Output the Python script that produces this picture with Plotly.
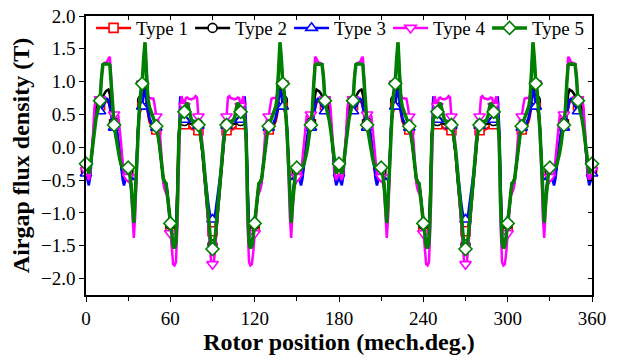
import plotly.graph_objects as go

rotor_deg = list(range(0, 361))

type1 = [
-0.35,-0.45,-0.48,-0.38,-0.12,0.15,0.38,0.52,0.58,0.62,
0.64,0.66,0.68,0.70,0.70,0.70,0.68,0.62,0.50,0.40,
0.35,0.30,0.22,0.08,-0.10,-0.28,-0.40,-0.45,-0.40,-0.35,
-0.35,-0.45,-0.55,-0.80,-1.08,-0.80,-0.20,0.25,0.50,0.60,
0.65,0.72,0.78,0.65,0.50,0.40,0.35,0.30,0.28,0.27,
0.27,0.22,0.08,-0.10,-0.30,-0.46,-0.52,-0.56,-0.70,-0.95,
-1.20,-1.38,-1.45,-1.47,-1.38,-0.70,0.15,0.40,0.40,0.38,
0.35,0.34,0.33,0.32,0.30,0.28,0.27,0.26,0.26,0.26,
0.26,0.22,0.08,-0.12,-0.38,-0.62,-0.85,-1.05,-1.20,-1.27,
-1.28,
-1.27,-1.20,-1.05,-0.85,-0.62,-0.38,-0.12,0.08,0.22,0.26,
0.26,0.26,0.26,0.27,0.28,0.30,0.32,0.33,0.34,0.35,
0.38,0.40,0.40,0.15,-0.70,-1.38,-1.47,-1.45,-1.38,-1.20,
-0.95,-0.70,-0.56,-0.52,-0.46,-0.30,-0.10,0.08,0.22,0.27,
0.27,0.28,0.30,0.35,0.40,0.50,0.65,0.78,0.72,0.65,
0.60,0.50,0.25,-0.20,-0.80,-1.08,-0.80,-0.55,-0.45,-0.35,
-0.35,-0.40,-0.45,-0.40,-0.28,-0.10,0.08,0.22,0.30,0.35,
0.40,0.50,0.62,0.68,0.70,0.70,0.70,0.68,0.66,0.64,
0.62,0.58,0.52,0.38,0.15,-0.12,-0.38,-0.48,-0.45,-0.35,
-0.45,-0.48,-0.38,-0.12,0.15,0.38,0.52,0.58,0.62,
0.64,0.66,0.68,0.70,0.70,0.70,0.68,0.62,0.50,0.40,
0.35,0.30,0.22,0.08,-0.10,-0.28,-0.40,-0.45,-0.40,-0.35,
-0.35,-0.45,-0.55,-0.80,-1.08,-0.80,-0.20,0.25,0.50,0.60,
0.65,0.72,0.78,0.65,0.50,0.40,0.35,0.30,0.28,0.27,
0.27,0.22,0.08,-0.10,-0.30,-0.46,-0.52,-0.56,-0.70,-0.95,
-1.20,-1.38,-1.45,-1.47,-1.38,-0.70,0.15,0.40,0.40,0.38,
0.35,0.34,0.33,0.32,0.30,0.28,0.27,0.26,0.26,0.26,
0.26,0.22,0.08,-0.12,-0.38,-0.62,-0.85,-1.05,-1.20,-1.27,
-1.28,
-1.27,-1.20,-1.05,-0.85,-0.62,-0.38,-0.12,0.08,0.22,0.26,
0.26,0.26,0.26,0.27,0.28,0.30,0.32,0.33,0.34,0.35,
0.38,0.40,0.40,0.15,-0.70,-1.38,-1.47,-1.45,-1.38,-1.20,
-0.95,-0.70,-0.56,-0.52,-0.46,-0.30,-0.10,0.08,0.22,0.27,
0.27,0.28,0.30,0.35,0.40,0.50,0.65,0.78,0.72,0.65,
0.60,0.50,0.25,-0.20,-0.80,-1.08,-0.80,-0.55,-0.45,-0.35,
-0.35,-0.40,-0.45,-0.40,-0.28,-0.10,0.08,0.22,0.30,0.35,
0.40,0.50,0.62,0.68,0.70,0.70,0.70,0.68,0.66,0.64,
0.62,0.58,0.52,0.38,0.15,-0.12,-0.38,-0.48,-0.45,-0.35,
]

type2 = [
-0.35,-0.45,-0.48,-0.38,-0.12,0.15,0.40,0.55,0.62,0.66,
0.70,0.74,0.78,0.82,0.85,0.87,0.88,0.80,0.60,0.45,
0.38,0.32,0.22,0.08,-0.10,-0.28,-0.40,-0.45,-0.40,-0.36,
-0.36,-0.45,-0.56,-0.82,-1.10,-0.80,-0.20,0.28,0.55,0.68,
0.72,0.85,0.90,0.72,0.55,0.45,0.38,0.35,0.33,0.32,
0.32,0.25,0.10,-0.10,-0.30,-0.48,-0.53,-0.56,-0.72,-0.95,
-1.18,-1.38,-1.48,-1.50,-1.40,-0.70,0.20,0.45,0.45,0.42,
0.40,0.40,0.38,0.37,0.36,0.35,0.35,0.35,0.35,0.35,
0.35,0.28,0.10,-0.12,-0.40,-0.68,-0.95,-1.20,-1.38,-1.46,
-1.48,
-1.46,-1.38,-1.20,-0.95,-0.68,-0.40,-0.12,0.10,0.28,0.35,
0.35,0.35,0.35,0.35,0.35,0.36,0.37,0.38,0.40,0.40,
0.42,0.45,0.45,0.20,-0.70,-1.40,-1.50,-1.48,-1.38,-1.18,
-0.95,-0.72,-0.56,-0.53,-0.48,-0.30,-0.10,0.10,0.25,0.32,
0.32,0.33,0.35,0.38,0.45,0.55,0.72,0.90,0.85,0.72,
0.68,0.55,0.28,-0.20,-0.80,-1.10,-0.82,-0.56,-0.45,-0.36,
-0.36,-0.40,-0.45,-0.40,-0.28,-0.10,0.08,0.22,0.32,0.38,
0.45,0.60,0.80,0.88,0.87,0.85,0.82,0.78,0.74,0.70,
0.66,0.62,0.55,0.40,0.15,-0.12,-0.38,-0.48,-0.45,-0.35,
-0.45,-0.48,-0.38,-0.12,0.15,0.40,0.55,0.62,0.66,
0.70,0.74,0.78,0.82,0.85,0.87,0.88,0.80,0.60,0.45,
0.38,0.32,0.22,0.08,-0.10,-0.28,-0.40,-0.45,-0.40,-0.36,
-0.36,-0.45,-0.56,-0.82,-1.10,-0.80,-0.20,0.28,0.55,0.68,
0.72,0.85,0.90,0.72,0.55,0.45,0.38,0.35,0.33,0.32,
0.32,0.25,0.10,-0.10,-0.30,-0.48,-0.53,-0.56,-0.72,-0.95,
-1.18,-1.38,-1.48,-1.50,-1.40,-0.70,0.20,0.45,0.45,0.42,
0.40,0.40,0.38,0.37,0.36,0.35,0.35,0.35,0.35,0.35,
0.35,0.28,0.10,-0.12,-0.40,-0.68,-0.95,-1.20,-1.38,-1.46,
-1.48,
-1.46,-1.38,-1.20,-0.95,-0.68,-0.40,-0.12,0.10,0.28,0.35,
0.35,0.35,0.35,0.35,0.35,0.36,0.37,0.38,0.40,0.40,
0.42,0.45,0.45,0.20,-0.70,-1.40,-1.50,-1.48,-1.38,-1.18,
-0.95,-0.72,-0.56,-0.53,-0.48,-0.30,-0.10,0.10,0.25,0.32,
0.32,0.33,0.35,0.38,0.45,0.55,0.72,0.90,0.85,0.72,
0.68,0.55,0.28,-0.20,-0.80,-1.10,-0.82,-0.56,-0.45,-0.36,
-0.36,-0.40,-0.45,-0.40,-0.28,-0.10,0.08,0.22,0.32,0.38,
0.45,0.60,0.80,0.88,0.87,0.85,0.82,0.78,0.74,0.70,
0.66,0.62,0.55,0.40,0.15,-0.12,-0.38,-0.48,-0.45,-0.35,
]

type3 = [
-0.40,-0.52,-0.58,-0.45,-0.15,0.15,0.38,0.50,0.53,0.55,
0.55,0.58,0.62,0.66,0.70,0.74,0.72,0.62,0.48,0.36,
0.30,0.30,0.26,0.12,-0.08,-0.30,-0.48,-0.58,-0.50,-0.42,
-0.45,-0.55,-0.60,-0.80,-1.10,-0.80,-0.20,0.30,0.55,0.60,
0.62,0.80,0.88,0.70,0.55,0.45,0.40,0.35,0.33,0.32,
0.30,0.25,0.10,-0.10,-0.30,-0.48,-0.55,-0.58,-0.72,-0.95,
-1.13,-1.35,-1.48,-1.50,-1.40,-0.60,0.30,0.76,0.76,0.55,
0.42,0.40,0.40,0.40,0.40,0.40,0.40,0.40,0.40,0.38,
0.33,0.28,0.10,-0.10,-0.35,-0.55,-0.72,-0.85,-1.00,-1.08,
-1.10,
-1.08,-1.00,-0.85,-0.72,-0.55,-0.35,-0.10,0.10,0.28,0.33,
0.38,0.40,0.40,0.40,0.40,0.40,0.40,0.40,0.40,0.42,
0.55,0.76,0.76,0.30,-0.60,-1.40,-1.50,-1.48,-1.35,-1.13,
-0.95,-0.72,-0.58,-0.55,-0.48,-0.30,-0.10,0.10,0.25,0.30,
0.32,0.33,0.35,0.40,0.45,0.55,0.70,0.88,0.80,0.62,
0.60,0.55,0.30,-0.20,-0.80,-1.10,-0.80,-0.60,-0.55,-0.45,
-0.42,-0.50,-0.58,-0.48,-0.30,-0.08,0.12,0.26,0.30,0.30,
0.36,0.48,0.62,0.72,0.74,0.70,0.66,0.62,0.58,0.55,
0.55,0.53,0.50,0.38,0.15,-0.15,-0.45,-0.58,-0.52,-0.40,
-0.52,-0.58,-0.45,-0.15,0.15,0.38,0.50,0.53,0.55,
0.55,0.58,0.62,0.66,0.70,0.74,0.72,0.62,0.48,0.36,
0.30,0.30,0.26,0.12,-0.08,-0.30,-0.48,-0.58,-0.50,-0.42,
-0.45,-0.55,-0.60,-0.80,-1.10,-0.80,-0.20,0.30,0.55,0.60,
0.62,0.80,0.88,0.70,0.55,0.45,0.40,0.35,0.33,0.32,
0.30,0.25,0.10,-0.10,-0.30,-0.48,-0.55,-0.58,-0.72,-0.95,
-1.13,-1.35,-1.48,-1.50,-1.40,-0.60,0.30,0.76,0.76,0.55,
0.42,0.40,0.40,0.40,0.40,0.40,0.40,0.40,0.40,0.38,
0.33,0.28,0.10,-0.10,-0.35,-0.55,-0.72,-0.85,-1.00,-1.08,
-1.10,
-1.08,-1.00,-0.85,-0.72,-0.55,-0.35,-0.10,0.10,0.28,0.33,
0.38,0.40,0.40,0.40,0.40,0.40,0.40,0.40,0.40,0.42,
0.55,0.76,0.76,0.30,-0.60,-1.40,-1.50,-1.48,-1.35,-1.13,
-0.95,-0.72,-0.58,-0.55,-0.48,-0.30,-0.10,0.10,0.25,0.30,
0.32,0.33,0.35,0.40,0.45,0.55,0.70,0.88,0.80,0.62,
0.60,0.55,0.30,-0.20,-0.80,-1.10,-0.80,-0.60,-0.55,-0.45,
-0.42,-0.50,-0.58,-0.48,-0.30,-0.08,0.12,0.26,0.30,0.30,
0.36,0.48,0.62,0.72,0.74,0.70,0.66,0.62,0.58,0.55,
0.55,0.53,0.50,0.38,0.15,-0.15,-0.45,-0.58,-0.52,-0.40,
]

type4 = [
-0.35,-0.45,-0.50,-0.40,-0.15,0.20,0.60,0.75,0.75,0.75,
0.73,1.10,1.27,1.28,1.29,1.30,1.35,1.38,1.00,0.55,
0.50,0.50,0.50,0.48,0.30,0.05,-0.20,-0.40,-0.48,-0.50,
-0.45,-0.46,-0.60,-0.95,-1.38,-1.05,-0.35,0.20,0.60,0.80,
0.97,1.30,1.55,1.20,0.80,0.75,0.75,0.75,0.74,0.62,
0.47,0.45,0.35,0.10,-0.25,-0.55,-0.65,-0.70,-0.75,-1.00,
-1.31,-1.60,-1.78,-1.80,-1.75,-1.20,-0.10,0.50,0.78,0.70,
0.63,0.75,0.76,0.74,0.73,0.73,0.74,0.75,0.78,0.76,
0.47,0.45,0.25,-0.05,-0.35,-0.62,-0.90,-1.20,-1.52,-1.74,
-1.78,
-1.74,-1.52,-1.20,-0.90,-0.62,-0.35,-0.05,0.25,0.45,0.47,
0.76,0.78,0.75,0.74,0.73,0.73,0.74,0.76,0.75,0.63,
0.70,0.78,0.50,-0.10,-1.20,-1.75,-1.80,-1.78,-1.60,-1.31,
-1.00,-0.75,-0.70,-0.65,-0.55,-0.25,0.10,0.35,0.45,0.47,
0.62,0.74,0.75,0.75,0.75,0.80,1.20,1.55,1.30,0.97,
0.80,0.60,0.20,-0.35,-1.05,-1.38,-0.95,-0.60,-0.46,-0.45,
-0.50,-0.48,-0.40,-0.20,0.05,0.30,0.48,0.50,0.50,0.50,
0.55,1.00,1.38,1.35,1.30,1.29,1.28,1.27,1.10,0.73,
0.75,0.75,0.75,0.60,0.20,-0.15,-0.40,-0.50,-0.45,-0.35,
-0.45,-0.50,-0.40,-0.15,0.20,0.60,0.75,0.75,0.75,
0.73,1.10,1.27,1.28,1.29,1.30,1.35,1.38,1.00,0.55,
0.50,0.50,0.50,0.48,0.30,0.05,-0.20,-0.40,-0.48,-0.50,
-0.45,-0.46,-0.60,-0.95,-1.38,-1.05,-0.35,0.20,0.60,0.80,
0.97,1.30,1.55,1.20,0.80,0.75,0.75,0.75,0.74,0.62,
0.47,0.45,0.35,0.10,-0.25,-0.55,-0.65,-0.70,-0.75,-1.00,
-1.31,-1.60,-1.78,-1.80,-1.75,-1.20,-0.10,0.50,0.78,0.70,
0.63,0.75,0.76,0.74,0.73,0.73,0.74,0.75,0.78,0.76,
0.47,0.45,0.25,-0.05,-0.35,-0.62,-0.90,-1.20,-1.52,-1.74,
-1.78,
-1.74,-1.52,-1.20,-0.90,-0.62,-0.35,-0.05,0.25,0.45,0.47,
0.76,0.78,0.75,0.74,0.73,0.73,0.74,0.76,0.75,0.63,
0.70,0.78,0.50,-0.10,-1.20,-1.75,-1.80,-1.78,-1.60,-1.31,
-1.00,-0.75,-0.70,-0.65,-0.55,-0.25,0.10,0.35,0.45,0.47,
0.62,0.74,0.75,0.75,0.75,0.80,1.20,1.55,1.30,0.97,
0.80,0.60,0.20,-0.35,-1.05,-1.38,-0.95,-0.60,-0.46,-0.45,
-0.50,-0.48,-0.40,-0.20,0.05,0.30,0.48,0.50,0.50,0.50,
0.55,1.00,1.38,1.35,1.30,1.29,1.28,1.27,1.10,0.73,
0.75,0.75,0.75,0.60,0.20,-0.15,-0.40,-0.50,-0.45,-0.35,
]

type5 = [
-0.25,-0.35,-0.40,-0.30,-0.10,0.10,0.28,0.42,0.52,0.60,
0.71,1.05,1.26,1.27,1.27,1.27,1.27,1.25,0.95,0.55,
0.34,0.20,0.05,-0.08,-0.18,-0.26,-0.30,-0.31,-0.31,-0.30,
-0.31,-0.40,-0.55,-0.85,-1.15,-0.75,-0.20,0.25,0.62,0.85,
0.97,1.35,1.60,1.15,0.75,0.62,0.55,0.50,0.45,0.38,
0.32,0.22,0.08,-0.10,-0.30,-0.48,-0.53,-0.55,-0.75,-0.95,
-1.16,-1.35,-1.50,-1.54,-1.45,-0.90,0.10,0.42,0.50,0.52,
0.54,0.62,0.68,0.60,0.48,0.42,0.40,0.38,0.37,0.36,
0.34,0.25,0.12,-0.05,-0.28,-0.55,-0.82,-1.08,-1.35,-1.52,
-1.55,
-1.52,-1.35,-1.08,-0.82,-0.55,-0.28,-0.05,0.12,0.25,0.34,
0.36,0.37,0.38,0.40,0.42,0.48,0.60,0.68,0.62,0.54,
0.52,0.50,0.42,0.10,-0.90,-1.45,-1.54,-1.50,-1.35,-1.16,
-0.95,-0.75,-0.55,-0.53,-0.48,-0.30,-0.10,0.08,0.22,0.32,
0.38,0.45,0.50,0.55,0.62,0.75,1.15,1.60,1.35,0.97,
0.85,0.62,0.25,-0.20,-0.75,-1.15,-0.85,-0.55,-0.40,-0.31,
-0.30,-0.31,-0.31,-0.30,-0.26,-0.18,-0.08,0.05,0.20,0.34,
0.55,0.95,1.25,1.27,1.27,1.27,1.27,1.26,1.05,0.71,
0.60,0.52,0.42,0.28,0.10,-0.10,-0.30,-0.40,-0.35,-0.25,
-0.35,-0.40,-0.30,-0.10,0.10,0.28,0.42,0.52,0.60,
0.71,1.05,1.26,1.27,1.27,1.27,1.27,1.25,0.95,0.55,
0.34,0.20,0.05,-0.08,-0.18,-0.26,-0.30,-0.31,-0.31,-0.30,
-0.31,-0.40,-0.55,-0.85,-1.15,-0.75,-0.20,0.25,0.62,0.85,
0.97,1.35,1.60,1.15,0.75,0.62,0.55,0.50,0.45,0.38,
0.32,0.22,0.08,-0.10,-0.30,-0.48,-0.53,-0.55,-0.75,-0.95,
-1.16,-1.35,-1.50,-1.54,-1.45,-0.90,0.10,0.42,0.50,0.52,
0.54,0.62,0.68,0.60,0.48,0.42,0.40,0.38,0.37,0.36,
0.34,0.25,0.12,-0.05,-0.28,-0.55,-0.82,-1.08,-1.35,-1.52,
-1.55,
-1.52,-1.35,-1.08,-0.82,-0.55,-0.28,-0.05,0.12,0.25,0.34,
0.36,0.37,0.38,0.40,0.42,0.48,0.60,0.68,0.62,0.54,
0.52,0.50,0.42,0.10,-0.90,-1.45,-1.54,-1.50,-1.35,-1.16,
-0.95,-0.75,-0.55,-0.53,-0.48,-0.30,-0.10,0.08,0.22,0.32,
0.38,0.45,0.50,0.55,0.62,0.75,1.15,1.60,1.35,0.97,
0.85,0.62,0.25,-0.20,-0.75,-1.15,-0.85,-0.55,-0.40,-0.31,
-0.30,-0.31,-0.31,-0.30,-0.26,-0.18,-0.08,0.05,0.20,0.34,
0.55,0.95,1.25,1.27,1.27,1.27,1.27,1.26,1.05,0.71,
0.60,0.52,0.42,0.28,0.10,-0.10,-0.30,-0.40,-0.35,-0.25,
]

series_names = ["Type 1", "Type 2", "Type 3", "Type 4", "Type 5"]
series_values = [type1, type2, type3, type4, type5]
colors = ["#ff0000", "#000000", "#0000ff", "#ff00ff", "#008000"]
symbols = ["square", "circle", "triangle-up", "triangle-down", "diamond"]
line_widths = [2.5, 2.5, 2.5, 2.5, 3.5]
marker_sizes = [9, 9, 10, 10, 10]
marker_step = 10  # one marker every 10 degrees

for vals in series_values:
    if len(vals) != len(rotor_deg):
        raise ValueError("length mismatch: %d" % len(vals))

FONT = "Liberation Serif, Times New Roman, serif"
fig = go.Figure()

for name, vals, col, sym, lw, ms in zip(series_names, series_values, colors,
                                         symbols, line_widths, marker_sizes):
    fig.add_trace(go.Scatter(x=rotor_deg, y=vals, mode="lines",
                             line=dict(color=col, width=lw),
                             showlegend=False, hoverinfo="skip"))
    mx = [d for d in rotor_deg if d % marker_step == 0]
    my = [v for d, v in zip(rotor_deg, vals) if d % marker_step == 0]
    fig.add_trace(go.Scatter(x=mx, y=my, mode="markers", cliponaxis=False,
                             marker=dict(symbol=sym, size=ms, color="white",
                                         line=dict(color=col, width=1.6)),
                             showlegend=False, hoverinfo="skip"))

for name, col, sym, lw, ms in zip(series_names, colors, symbols, line_widths, marker_sizes):
    fig.add_trace(go.Scatter(x=[None], y=[None], mode="lines+markers", name=name,
                             line=dict(color=col, width=lw),
                             marker=dict(symbol=sym, size=ms, color="white",
                                         line=dict(color=col, width=1.6))))

# dummy trace for mirrored top/right axes
fig.add_trace(go.Scatter(x=[None], y=[None], xaxis="x2", yaxis="y2",
                         showlegend=False, hoverinfo="skip"))

axis_common = dict(showgrid=False, zeroline=False, showline=True,
                   linecolor="black", linewidth=1.6, tickcolor="black",
                   tickwidth=1.4,
                   tickfont=dict(family=FONT, size=19, color="black"))

fig.update_layout(
    width=619, height=362,
    margin=dict(l=86, r=27, t=16, b=67, autoexpand=False),
    paper_bgcolor="white", plot_bgcolor="white",
    font=dict(family=FONT, size=19, color="black"),
    xaxis=dict(range=[0, 360], tickmode="linear", tick0=0, dtick=60,
               ticks="outside", ticklen=5, automargin=True,
               minor=dict(dtick=30, ticks="outside", ticklen=4,
                          tickcolor="black", tickwidth=1.4),
               title=dict(text="<b>Rotor position (mech.deg.)</b>",
                          font=dict(family=FONT, size=24), standoff=5),
               **axis_common),
    yaxis=dict(range=[-2.25, 2.0], tickmode="linear", tick0=-2.0, dtick=0.5,
               tickformat=".1f", ticks="outside", ticklen=5, automargin=True,
               title=dict(text="<b>Airgap flux density (T)</b>",
                          font=dict(family=FONT, size=24), standoff=5),
               **axis_common),
    xaxis2=dict(range=[0, 360], overlaying="x", side="top", anchor="y2",
                tickmode="linear", tick0=0, dtick=30, ticks="inside",
                ticklen=4, showticklabels=False, automargin=False,
                **axis_common),
    yaxis2=dict(range=[-2.25, 2.0], overlaying="y", side="right", anchor="x2",
                tickmode="linear", tick0=-2.0, dtick=0.5, ticks="inside",
                ticklen=4, showticklabels=False, automargin=False,
                **axis_common),
    legend=dict(orientation="h", x=0.01, y=1.025, xanchor="left", yanchor="top",
                bgcolor="rgba(0,0,0,0)", font=dict(family=FONT, size=19),
                itemwidth=35, entrywidth=49, entrywidthmode="pixels",
                tracegroupgap=0),
    showlegend=True,
)

fig.write_html("out.html", config={"displayModeBar": False},
               post_script="document.body.style.margin='0';document.body.style.padding='0';")
